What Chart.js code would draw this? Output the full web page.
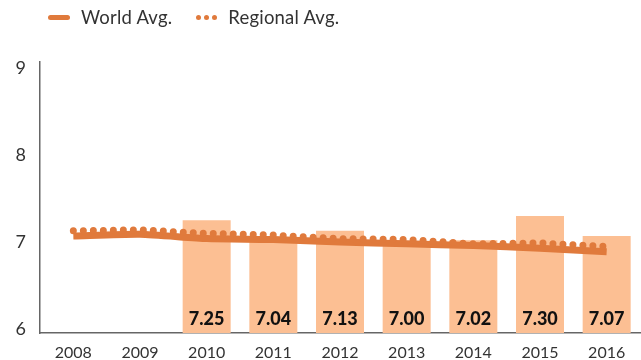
<!DOCTYPE html>
<html>
<head>
<meta charset="utf-8">
<script src="https://cdn.jsdelivr.net/npm/chart.js@4"></script>
<style>
  html,body{margin:0;padding:0;background:#fff;}
  #wrap{position:relative;width:641px;height:360px;font-family:Lato,"Open Sans",sans-serif;}
  #legend{position:absolute;left:48px;top:6px;display:flex;align-items:center;font-size:18.5px;color:#333;letter-spacing:0.2px;}
  .sw{display:inline-block;width:22px;height:5px;border-radius:3px;background:#e07a3c;margin-right:11px;}
  .dots{display:inline-flex;gap:3px;margin-right:11px;margin-left:24px;}
  .dots i{display:block;width:5px;height:5px;border-radius:50%;background:#e07a3c;}
</style>
</head>
<body>
<div id="wrap">
  <div id="legend"><span class="sw"></span>World Avg.<span class="dots"><i></i><i></i><i></i></span>Regional Avg.</div>
  <canvas id="c" width="641" height="360"></canvas>
</div>
<script>
const years = ['2008','2009','2010','2011','2012','2013','2014','2015','2016'];
const countryScore = [null, null, 7.25, 7.04, 7.13, 7.00, 7.02, 7.30, 7.07];
const worldAvg = [7.07, 7.09, 7.04, 7.03, 7.00, 6.98, 6.96, 6.93, 6.89];
const regionalAvg = [7.13, 7.14, 7.10, 7.08, 7.04, 7.03, 6.98, 6.99, 6.95];
const yTicks = [6, 7, 8, 9];

const lineColor = '#e07a3c';
const barColor = '#fcbf93';

const barLabels = {
  id: 'barLabels',
  afterDatasetsDraw(chart){
    const ctx = chart.ctx;
    const meta = chart.getDatasetMeta(2);
    ctx.save();
    ctx.font = '900 18px Lato, sans-serif';
    ctx.fillStyle = '#111';
    ctx.textAlign = 'center';
    ctx.textBaseline = 'middle';
    meta.data.forEach((bar, i) => {
      const v = countryScore[i];
      if (v == null) return;
      ctx.fillText(v.toFixed(2), bar.x, chart.chartArea.bottom - 14);
    });
    ctx.restore();
  }
};

new Chart(document.getElementById('c'), {
  data: {
    labels: years,
    datasets: [
      {
        type: 'line',
        label: 'Regional Avg.',
        data: regionalAvg,
        borderColor: lineColor,
        borderWidth: 7,
        borderDash: [0, 10],
        borderCapStyle: 'round',
        pointRadius: 0,
        fill: false,
        tension: 0,
        order: 1
      },
      {
        type: 'line',
        label: 'World Avg.',
        data: worldAvg,
        borderColor: lineColor,
        borderWidth: 7,
        borderCapStyle: 'butt',
        pointRadius: 0,
        fill: false,
        tension: 0.2,
        order: 2
      },
      {
        type: 'bar',
        label: 'Country',
        data: countryScore,
        backgroundColor: barColor,
        barPercentage: 0.72,
        categoryPercentage: 1,
        base: 5.955,
        order: 3
      }
    ]
  },
  options: {
    responsive: false,
    animation: false,
    layout: {padding: {top: 62, right: 1, left: 0, bottom: 0}},
    plugins: {legend: {display: false}, tooltip: {enabled: false}},
    scales: {
      x: {
        offset: true,
        afterFit(scale){ scale.height = 27; },
        grid: {display: false, drawTicks: false},
        border: {display: true, color: '#666', width: 1.5},
        ticks: {color: '#333', font: {family: 'Lato', size: 16}, padding: 10}
      },
      y: {
        min: 5.955,
        max: 9.07,
        afterBuildTicks(scale){ scale.ticks = yTicks.map(v => ({value: v})); },
        afterFit(scale){ scale.width = 40; },
        grid: {display: false, drawTicks: false},
        border: {display: true, color: '#666', width: 1.5},
        ticks: {color: '#333', font: {family: 'Lato', size: 18}, padding: 14, align: 'center'}
      }
    }
  },
  plugins: [barLabels]
});
</script>
</body>
</html>
